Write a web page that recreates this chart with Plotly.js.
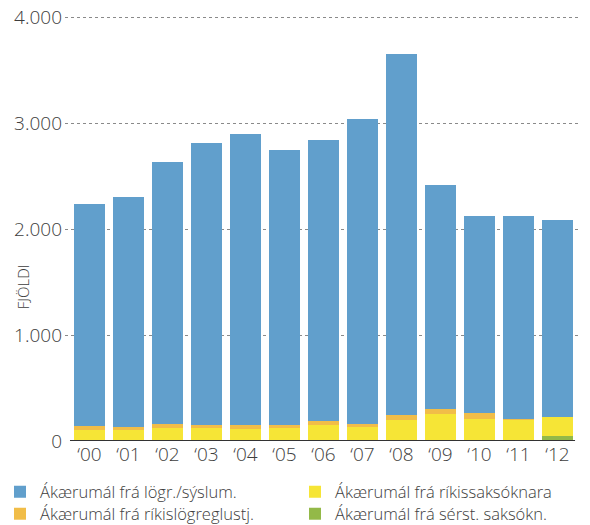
<!DOCTYPE html>
<html>
<head>
<meta charset="utf-8">
<script src="https://cdn.plot.ly/plotly-3.0.1.min.js"></script>
<style>html,body{margin:0;padding:0;background:#fff;}#chart{width:590px;height:525px;}</style>
</head>
<body>
<div id="chart"></div>
<script>
const years = ["‘00","‘01","‘02","‘03","‘04","‘05","‘06","‘07","‘08","‘09","‘10","‘11","‘12"];
const serstSaksokn = [0,0,0,0,0,0,0,0,0,0,8,8,50];
const rikissaksoknara = [106,106,125,125,116,125,154,135,201,257,202,193,179];
const rikislogreglustj = [38,28,38,29,38,29,38,28,47,48,57,9,0];
const logrSyslum = [2096,2166,2467,2656,2741,2591,2648,2877,3402,2110,1858,1915,1856];
const yTicks = [0,1000,2000,3000,4000];

const font = "'Open Sans', Lato, sans-serif";
const txt = "#3d3d3d";

const traces = [
  {name:"Ákærumál frá sérst. saksókn.", y:serstSaksokn, color:"#93b948", lg:"legend4"},
  {name:"Ákærumál frá ríkissaksóknara", y:rikissaksoknara, color:"#f6e536", lg:"legend2"},
  {name:"Ákærumál frá ríkislögreglustj.", y:rikislogreglustj, color:"#f1bd48", lg:"legend3"},
  {name:"Ákærumál frá lögr./sýslum.", y:logrSyslum, color:"#619fcc", lg:"legend"}
].map(t => ({
  type:"bar", x:years, y:t.y, name:t.name, legend:t.lg,
  marker:{color:t.color, line:{width:0}}, hoverinfo:"y+name"
}));

const legendBase = {
  orientation:"v", xref:"container", yref:"container",
  xanchor:"left", yanchor:"middle",
  traceorder:"normal", tracegroupgap:0, itemwidth:30,
  font:{family:font, size:16.5, color:txt, weight:300},
  bgcolor:"rgba(0,0,0,0)", borderwidth:0
};
const row1 = 1 - 492/525, row2 = 1 - 514/525;

const layout = {
  width:590, height:525,
  margin:{l:65, r:12, t:16, b:84, autoexpand:false},
  barmode:"stack", bargap:0.205,
  separators:",.",
  paper_bgcolor:"#fff", plot_bgcolor:"#fff",
  font:{family:font, color:txt},
  showlegend:true,
  legend:Object.assign({}, legendBase, {x:0.0, y:row1}),
  legend3:Object.assign({}, legendBase, {x:0.0, y:row2}),
  legend2:Object.assign({}, legendBase, {x:0.5, y:row1}),
  legend4:Object.assign({}, legendBase, {x:0.5, y:row2}),
  xaxis:{
    type:"category", range:[-0.628, 12.526], fixedrange:true,
    showgrid:false, zeroline:false, showline:false, ticks:"",
    tickfont:{family:font, size:19, color:txt, weight:300}
  },
  yaxis:{
    range:[0,4010], tickvals:yTicks, tickformat:",d",
    showgrid:true, gridcolor:"#8a8a8a", gridwidth:1, griddash:"dot",
    zeroline:false, showline:false, ticks:"",
    tickfont:{family:font, size:19, color:txt, weight:300}, ticklabelstandoff:2
  },
  shapes:[
    {type:"line", xref:"x", yref:"y", x0:-0.5, x1:12.45, y0:0, y1:0,
     line:{color:"#333", width:2}, layer:"above"}
  ],
  annotations:[
    {text:"FJÖLDI", xref:"paper", yref:"y", x:-0.082, y:1460,
     textangle:-90, showarrow:false, xanchor:"center", yanchor:"middle",
     font:{family:font, size:15, color:txt, weight:300}}
  ]
};

Plotly.newPlot("chart", traces, layout, {displayModeBar:false, staticPlot:true});
</script>
</body>
</html>
